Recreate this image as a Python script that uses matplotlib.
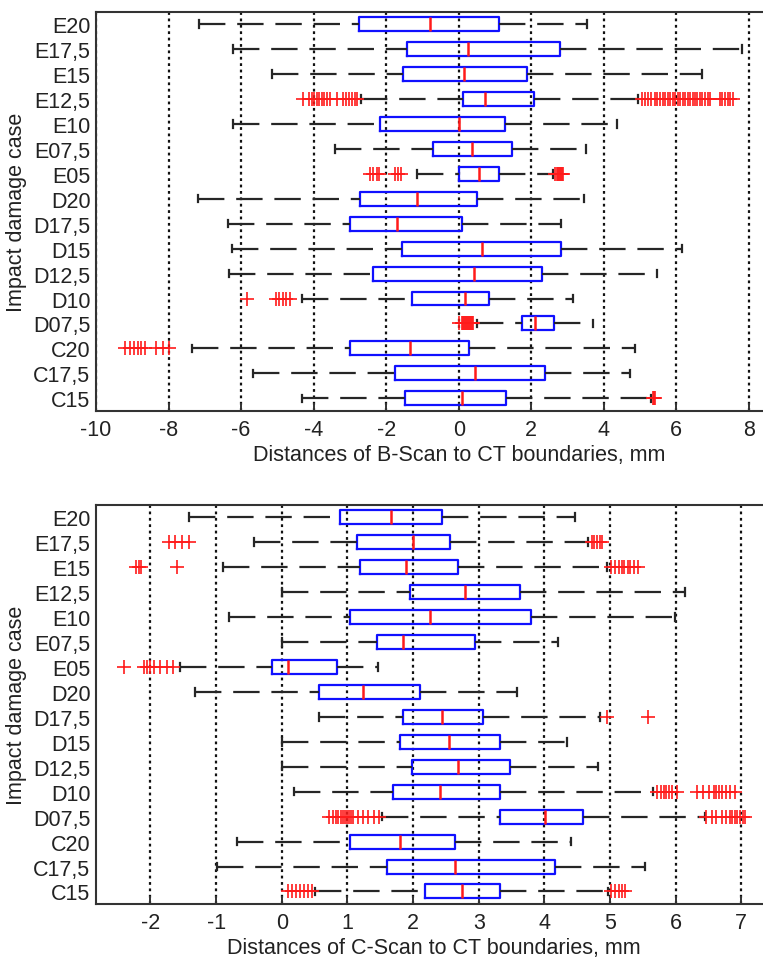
import numpy as np
import matplotlib.pyplot as plt

plt.rcParams['font.family'] = ['Liberation Sans', 'DejaVu Sans']
plt.rcParams['lines.scale_dashes'] = False
plt.rcParams['axes.unicode_minus'] = False

cases = ['E20', 'E17,5', 'E15', 'E12,5', 'E10', 'E07,5', 'E05', 'D20',
         'D17,5', 'D15', 'D12,5', 'D10', 'D07,5', 'C20', 'C17,5', 'C15']

# B-Scan distances (mm)
b_lo = [-7.15, -6.23, -5.16, -2.70, -6.21, -3.41, -1.16, -7.18,
        -6.35, -6.26, -6.32, -4.33, 0.50, -7.36, -5.68, -4.33]
b_q1 = [-2.74, -1.43, -1.53, 0.13, -2.17, -0.70, 0.00, -2.72,
        -3.00, -1.56, -2.35, -1.28, 1.74, -3.00, -1.76, -1.48]
b_med = [-0.78, 0.27, 0.14, 0.73, 0.00, 0.36, 0.55, -1.16,
         -1.71, 0.63, 0.41, 0.18, 2.11, -1.34, 0.46, 0.08]
b_q3 = [1.10, 2.80, 1.88, 2.08, 1.29, 1.48, 1.10, 0.50,
        0.09, 2.82, 2.31, 0.83, 2.63, 0.28, 2.38, 1.30]
b_hi = [3.55, 7.82, 6.71, 4.95, 4.37, 3.50, 2.60, 3.45,
        2.82, 6.15, 5.46, 3.16, 3.71, 4.87, 4.72, 5.30]
b_fliers = [
    [], [], [],
    [-4.28, -4.12, -4.05, -3.98, -3.92, -3.85, -3.78, -3.70, -3.62, -3.55,
     -3.35, -3.18, -3.10, -3.02, -2.95, -2.87, -2.80,
     5.05, 5.14, 5.22, 5.30, 5.41, 5.48, 5.55, 5.62, 5.69, 5.78, 5.82, 5.90,
     5.96, 6.05, 6.10, 6.18, 6.23, 6.31, 6.37, 6.45, 6.51, 6.58, 6.65, 6.72,
     6.79, 6.86, 6.93, 7.20, 7.27, 7.34, 7.42, 7.48, 7.55],
    [], [],
    [-2.45, -2.35, -2.25, -2.20, -1.75, -1.68, -1.60,
     2.66, 2.70, 2.73, 2.76, 2.79, 2.82, 2.85, 2.88],
    [], [], [], [],
    [-5.85, -5.05, -4.95, -4.85, -4.75, -4.65],
    [0.02, 0.08, 0.12, 0.15, 0.18, 0.20, 0.22, 0.25, 0.28, 0.30, 0.33, 0.36, 0.40],
    [-9.20, -9.05, -8.95, -8.85, -8.75, -8.65, -8.35, -8.15, -7.98],
    [],
    [5.35, 5.38, 5.42],
]

# C-Scan distances (mm)
c_lo = [-1.42, -0.43, -0.89, 0.00, -0.80, 0.00, -1.55, -1.32,
        0.56, 0.00, 0.00, 0.18, 1.52, -0.68, -0.99, 0.50]
c_q1 = [0.89, 1.14, 1.19, 1.95, 1.04, 1.45, -0.15, 0.56,
        1.85, 1.80, 1.98, 1.70, 3.32, 1.04, 1.60, 2.18]
c_med = [1.66, 2.00, 1.89, 2.79, 2.26, 1.85, 0.10, 1.24,
         2.44, 2.54, 2.69, 2.41, 4.01, 1.80, 2.64, 2.74]
c_q3 = [2.44, 2.56, 2.69, 3.63, 3.79, 2.95, 0.84, 2.10,
        3.07, 3.32, 3.47, 3.32, 4.59, 2.64, 4.16, 3.32]
c_hi = [4.46, 4.67, 4.95, 6.14, 5.99, 4.21, 1.47, 3.58,
        4.85, 4.34, 4.82, 5.66, 6.44, 4.41, 5.53, 4.97]
c_fliers = [
    [],
    [-1.72, -1.62, -1.52, -1.42, 4.72, 4.76, 4.80, 4.84, 4.88],
    [-2.22, -2.18, -2.14, -1.60, 5.02, 5.08, 5.13, 5.18, 5.22, 5.27, 5.31, 5.36, 5.42],
    [], [], [],
    [-2.40, -2.10, -2.05, -2.00, -1.95, -1.85, -1.75, -1.65],
    [],
    [4.95, 5.58],
    [], [],
    [5.72, 5.78, 5.82, 5.86, 5.90, 5.95, 6.02,
     6.33, 6.42, 6.50, 6.58, 6.62, 6.66, 6.70, 6.76, 6.82, 6.90],
    [0.72, 0.78, 0.82, 0.86, 0.90, 0.93, 0.96, 0.99, 1.02, 1.05, 1.08,
     1.16, 1.24, 1.32, 1.40, 1.48,
     6.46, 6.55, 6.62, 6.70, 6.76, 6.82, 6.86, 6.90, 6.94, 6.98, 7.02, 7.06],
    [], [],
    [0.10, 0.16, 0.22, 0.28, 0.34, 0.40, 0.46, 5.02, 5.08, 5.13, 5.18, 5.23],
]

txt = '#222222'
fs = 15.5


def draw(ax, lo, q1, med, q3, hi, fliers, xlim, xticks, xlabel, label_x):
    stats = []
    for i in range(len(cases)):
        stats.append(dict(whislo=lo[i], q1=q1[i], med=med[i], q3=q3[i],
                          whishi=hi[i], fliers=fliers[i]))
    pos = np.arange(len(cases), 0, -1)
    bp = ax.bxp(stats, positions=pos, widths=0.56, capwidths=0.3,
                orientation='horizontal', manage_ticks=False,
                boxprops=dict(color='#1010ff', lw=1.6),
                medianprops=dict(color='#ff1a1a', lw=1.8),
                whiskerprops=dict(color='#262626', lw=1.6, ls=(0, (19, 8.5))),
                capprops=dict(color='#262626', lw=1.6),
                flierprops=dict(marker='+', markeredgecolor='#ff1a1a',
                                markersize=10, markeredgewidth=1.2))
    # matlab draws the lower whisker starting from the cap
    for w in bp['whiskers'][0::2]:
        w.set_data(w.get_xdata()[::-1], w.get_ydata()[::-1])
    ax.set_ylim(0.5, len(cases) + 0.5)
    ax.set_yticks(pos)
    ax.set_yticklabels(cases)
    ax.set_xlim(*xlim)
    ax.set_xticks(xticks)
    ax.grid(axis='x', color='#111111', lw=1.6, ls=(0, (2, 2.6)))
    ax.set_axisbelow(True)
    ax.tick_params(axis='x', direction='in', length=6, width=1.4,
                   colors='#333333', labelcolor=txt, labelsize=fs, pad=6)
    ax.tick_params(axis='y', length=0, labelcolor=txt, labelsize=fs, pad=4)
    for s in ['top', 'left', 'bottom']:
        ax.spines[s].set_color('#333333')
        ax.spines[s].set_linewidth(1.5)
    ax.spines['right'].set_visible(False)
    ax.set_xlabel(xlabel, fontsize=fs, color=txt, labelpad=3)
    ax.xaxis.label.set_x(label_x)
    ax.set_ylabel('Impact damage case', fontsize=fs, color=txt, labelpad=4)


fig = plt.figure(figsize=(7.63, 9.62), dpi=100)
ax1 = fig.add_axes([0.1258, 0.572, 0.8742, 0.4148])
ax2 = fig.add_axes([0.1258, 0.0593, 0.8742, 0.415])

draw(ax1, b_lo, b_q1, b_med, b_q3, b_hi, b_fliers, (-10, 8.39),
     np.arange(-10, 9, 2), 'Distances of B-Scan to CT boundaries, mm', 0.545)
draw(ax2, c_lo, c_q1, c_med, c_q3, c_hi, c_fliers, (-2.83, 7.33),
     np.arange(-2, 8, 1), 'Distances of C-Scan to CT boundaries, mm', 0.507)

fig.savefig('out.png', dpi=100)
